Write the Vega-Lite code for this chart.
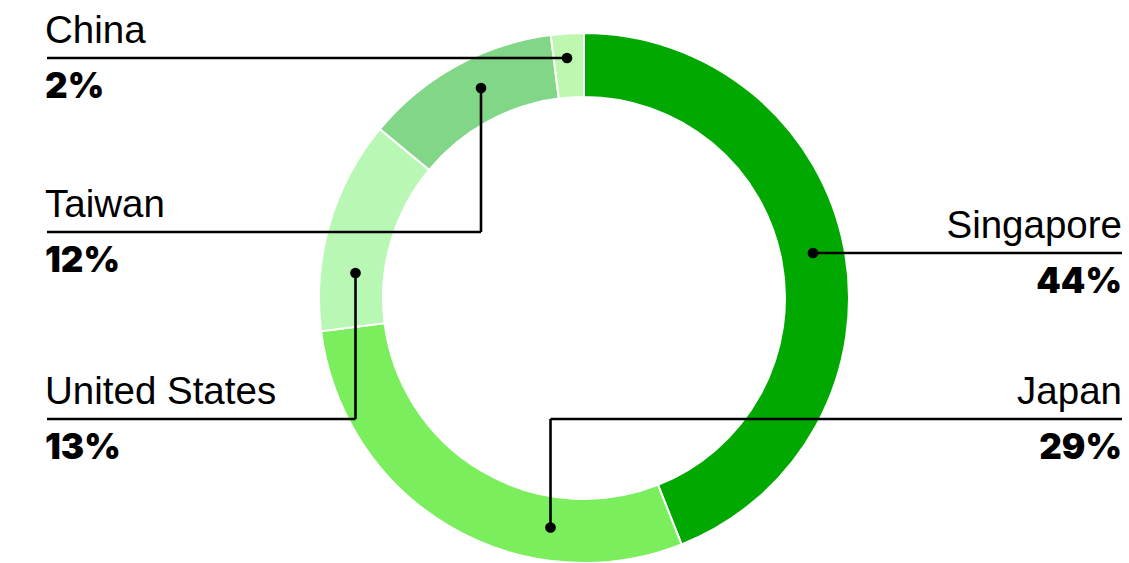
{
  "$schema": "https://vega.github.io/schema/vega-lite/v6.json",
  "width": 1090,
  "height": 530,
  "padding": {"left": 39, "top": 33, "right": 0, "bottom": 0},
  "autosize": {"type": "none"},
  "background": "white",
  "config": {"view": {"stroke": null}},
  "datasets": {
    "shares": [
      {"country": "Singapore", "share": 44, "rank": 1},
      {"country": "Japan", "share": 29, "rank": 2},
      {"country": "United States", "share": 13, "rank": 3},
      {"country": "Taiwan", "share": 12, "rank": 4},
      {"country": "China", "share": 2, "rank": 5}
    ],
    "leaders": [
      {"country": "China", "x": -537, "y": 240, "x2": -17, "y2": 240},
      {"country": "Taiwan", "x": -537, "y": 66, "x2": -103, "y2": 66},
      {"country": "Taiwan", "x": -103, "y": 66, "x2": -103, "y2": 210},
      {"country": "United States", "x": -537, "y": -121, "x2": -228.5, "y2": -121},
      {"country": "United States", "x": -228.5, "y": -121, "x2": -228.5, "y2": 25},
      {"country": "Japan", "x": -33.5, "y": -121, "x2": 538, "y2": -121},
      {"country": "Japan", "x": -33.5, "y": -229.5, "x2": -33.5, "y2": -121},
      {"country": "Singapore", "x": 229, "y": 45, "x2": 538, "y2": 45}
    ],
    "dots": [
      {"country": "China", "x": -17, "y": 240},
      {"country": "Taiwan", "x": -103, "y": 210},
      {"country": "United States", "x": -228.5, "y": 25},
      {"country": "Japan", "x": -33.5, "y": -229.5},
      {"country": "Singapore", "x": 229, "y": 45}
    ],
    "labels": [
      {"country": "China", "pct": "2%", "x": -539, "y": 240, "side": "left"},
      {"country": "Taiwan", "pct": "12%", "x": -539, "y": 66, "side": "left"},
      {"country": "United States", "pct": "13%", "x": -539, "y": -121, "side": "left"},
      {"country": "Singapore", "pct": "44%", "x": 538, "y": 45, "side": "right"},
      {"country": "Japan", "pct": "29%", "x": 538, "y": -121, "side": "right"}
    ]
  },
  "resolve": {"scale": {"x": "shared", "y": "shared"}},
  "layer": [
    {
      "data": {"name": "shares"},
      "mark": {"type": "arc", "radius": 265, "radius2": 201, "stroke": "white", "strokeWidth": 2},
      "encoding": {
        "theta": {"field": "share", "type": "quantitative", "stack": true},
        "order": {"field": "rank", "type": "quantitative"},
        "color": {
          "field": "country",
          "type": "nominal",
          "legend": null,
          "scale": {
            "domain": ["Singapore", "Japan", "United States", "Taiwan", "China"],
            "range": ["#00A800", "#7AEE5C", "#B8F8B4", "#82D687", "#BEF7B0"]
          }
        }
      }
    },
    {
      "data": {"name": "leaders"},
      "mark": {"type": "rule", "color": "black", "strokeWidth": 2.6},
      "encoding": {
        "x": {"field": "x", "type": "quantitative", "scale": {"domain": [-545, 545], "nice": false, "zero": false}, "axis": null},
        "y": {"field": "y", "type": "quantitative", "scale": {"domain": [-265, 265], "nice": false, "zero": false}, "axis": null},
        "x2": {"field": "x2"},
        "y2": {"field": "y2"}
      }
    },
    {
      "data": {"name": "dots"},
      "mark": {"type": "point", "filled": true, "color": "black", "opacity": 1, "size": 115},
      "encoding": {
        "x": {"field": "x", "type": "quantitative"},
        "y": {"field": "y", "type": "quantitative"}
      }
    },
    {
      "data": {"name": "labels"},
      "transform": [{"filter": "datum.side === 'left'"}],
      "mark": {"type": "text", "align": "left", "baseline": "alphabetic", "dy": -15, "font": "Liberation Sans", "fontSize": 38.5, "color": "black"},
      "encoding": {
        "x": {"field": "x", "type": "quantitative"},
        "y": {"field": "y", "type": "quantitative"},
        "text": {"field": "country"}
      }
    },
    {
      "data": {"name": "labels"},
      "transform": [{"filter": "datum.side === 'left'"}],
      "mark": {"type": "text", "align": "left", "baseline": "alphabetic", "dy": 40, "font": "Inter", "fontWeight": 900, "fontSize": 35, "color": "black"},
      "encoding": {
        "x": {"field": "x", "type": "quantitative"},
        "y": {"field": "y", "type": "quantitative"},
        "text": {"field": "pct"}
      }
    },
    {
      "data": {"name": "labels"},
      "transform": [{"filter": "datum.side === 'right'"}],
      "mark": {"type": "text", "align": "right", "baseline": "alphabetic", "dy": -15, "font": "Liberation Sans", "fontSize": 38.5, "color": "black"},
      "encoding": {
        "x": {"field": "x", "type": "quantitative"},
        "y": {"field": "y", "type": "quantitative"},
        "text": {"field": "country"}
      }
    },
    {
      "data": {"name": "labels"},
      "transform": [{"filter": "datum.side === 'right'"}],
      "mark": {"type": "text", "align": "right", "baseline": "alphabetic", "dy": 40, "font": "Inter", "fontWeight": 900, "fontSize": 35, "color": "black"},
      "encoding": {
        "x": {"field": "x", "type": "quantitative"},
        "y": {"field": "y", "type": "quantitative"},
        "text": {"field": "pct"}
      }
    }
  ]
}
